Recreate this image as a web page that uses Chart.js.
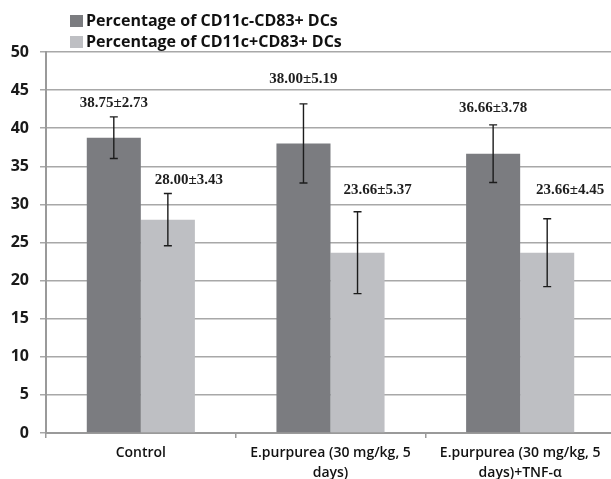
<!DOCTYPE html>
<html>
<head>
<meta charset="utf-8">
<script src="https://cdn.jsdelivr.net/npm/chart.js@4/dist/chart.umd.min.js"></script>
<style>
  html, body { margin: 0; padding: 0; background: #fff; overflow: hidden; }
  #wrap { position: relative; width: 615px; height: 479px; }
</style>
</head>
<body>
<div id="wrap"><canvas id="c"></canvas></div>
<script>
// Groups along the x axis (multi-line labels)
const categories = [
  ['Control'],
  ['E.purpurea (30 mg/kg, 5', 'days)'],
  ['E.purpurea (30 mg/kg, 5', 'days)+TNF-α']
];
const seriesNames = ['Percentage of CD11c-CD83+ DCs', 'Percentage of CD11c+CD83+ DCs'];

// Means and standard deviations per group
const cd83NegMean = [38.75, 38.00, 36.66];
const cd83NegSD   = [2.73, 5.19, 3.78];
const cd83PosMean = [28.00, 23.66, 23.66];
const cd83PosSD   = [3.43, 5.37, 4.45];

// Value axis
const yMin = 0, yMax = 50, yStep = 5;

const sdByDataset = [cd83NegSD, cd83PosSD];

// Where each "mean±SD" label sits relative to its error-bar top (pixels)
const labelNudge = [
  [{dx: 0, dy: -14}, {dx: 0, dy: -24.5}, {dx: 0, dy: -17}],
  [{dx: 21, dy: -13}, {dx: 20, dy: -21.5}, {dx: 23, dy: -28.5}]
];

const errorBars = {
  id: 'errorBars',
  afterDatasetsDraw(chart) {
    const ctx = chart.ctx;
    const y = chart.scales.y;
    ctx.save();
    chart.data.datasets.forEach((ds, di) => {
      const meta = chart.getDatasetMeta(di);
      meta.data.forEach((bar, i) => {
        const v = ds.data[i], sd = sdByDataset[di][i];
        const top = y.getPixelForValue(v + sd);
        const bot = y.getPixelForValue(v - sd);
        const x = bar.x;
        ctx.strokeStyle = '#1c1c1c';
        ctx.lineWidth = 1.4;
        ctx.beginPath();
        ctx.moveTo(x, top); ctx.lineTo(x, bot);
        ctx.moveTo(x - 4, top); ctx.lineTo(x + 4, top);
        ctx.moveTo(x - 4, bot); ctx.lineTo(x + 4, bot);
        ctx.stroke();
        // value label
        const n = labelNudge[di][i];
        ctx.fillStyle = '#1e1e1e';
        ctx.font = 'bold 15px "Liberation Serif", "Times New Roman", serif';
        ctx.textAlign = 'center';
        ctx.textBaseline = 'middle';
        ctx.fillText(v.toFixed(2) + '±' + sd.toFixed(2), x + n.dx, top + n.dy);
      });
    });
    ctx.restore();
  }
};

const stackedLegend = {
  id: 'stackedLegend',
  afterDraw(chart) {
    const ctx = chart.ctx;
    ctx.save();
    ctx.font = 'bold 16px "Open Sans", sans-serif';
    ctx.textAlign = 'left';
    ctx.textBaseline = 'middle';
    chart.data.datasets.forEach((ds, i) => {
      const cy = 21 + i * 21;
      ctx.fillStyle = ds.backgroundColor;
      ctx.fillRect(70, cy - 6, 13, 12);
      ctx.fillStyle = '#111';
      ctx.fillText(ds.label, 86, cy);
    });
    ctx.restore();
  }
};

new Chart(document.getElementById('c'), {
  type: 'bar',
  data: {
    labels: categories,
    datasets: [
      { label: seriesNames[0], data: cd83NegMean, backgroundColor: '#7b7c80' },
      { label: seriesNames[1], data: cd83PosMean, backgroundColor: '#bebfc3' }
    ]
  },
  options: {
    responsive: true,
    maintainAspectRatio: false,
    devicePixelRatio: 1,
    animation: false,
    layout: { padding: { top: 52, left: 0, right: 0, bottom: 0 } },
    datasets: { bar: { categoryPercentage: 0.57, barPercentage: 1.0 } },
    plugins: { legend: { display: false }, tooltip: { enabled: false } },
    scales: {
      x: {
        afterFit(scale) { scale.height = 46; },
        grid: { offset: true, drawOnChartArea: false, drawTicks: true, tickLength: 5, color: '#9a9a9a', lineWidth: 1.5 },
        border: { color: '#9a9a9a', width: 2 },
        ticks: {
          color: '#111',
          padding: 5,
          maxRotation: 0,
          autoSkip: false,
          font: { family: '"Open Sans", sans-serif', size: 14, weight: 600, lineHeight: 1.43 }
        }
      },
      y: {
        min: yMin, max: yMax,
        afterFit(scale) { scale.width = 46; },
        grid: { color: '#a8a8a8', lineWidth: 1.5, tickLength: 6 },
        border: { color: '#9a9a9a', width: 2 },
        ticks: {
          stepSize: yStep,
          color: '#1a1a1a',
          padding: 11,
          font: { family: '"Open Sans", sans-serif', size: 16, weight: 'bold' }
        }
      }
    }
  },
  plugins: [errorBars, stackedLegend]
});
</script>
</body>
</html>
